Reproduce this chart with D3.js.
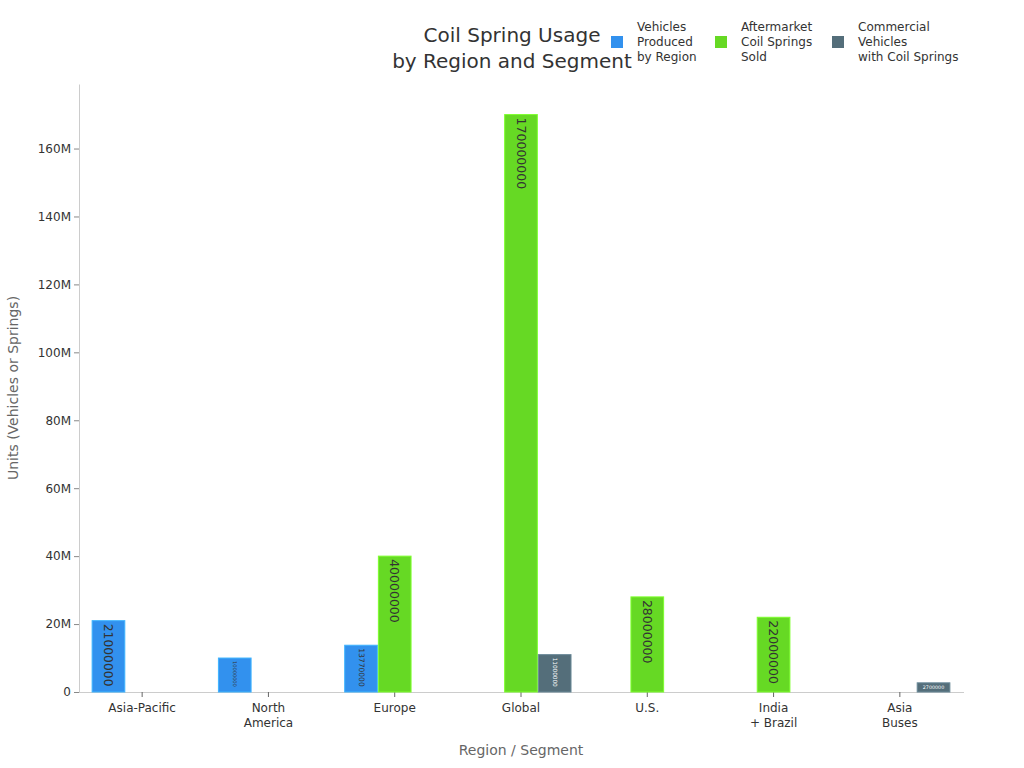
<!DOCTYPE html>
<html>
<head>
<meta charset="utf-8">
<script src="https://cdn.jsdelivr.net/npm/d3@7"></script>
<style>
  body { margin: 0; background: #fff; font-family: "DejaVu Sans", sans-serif; }
  svg text { font-family: "DejaVu Sans", sans-serif; }
</style>
</head>
<body>
<div id="chart"></div>
<script>
// data
const categories = ["Asia-Pacific", "North\nAmerica", "Europe", "Global", "U.S.", "India\n+ Brazil", "Asia\nBuses"];
const seriesNames = ["Vehicles\nProduced\nby Region", "Aftermarket\nCoil Springs\nSold", "Commercial\nVehicles\nwith Coil Springs"];
const vehiclesProduced = [21000000, 10000000, 13770000, null, null, null, null];
const aftermarketSprings = [null, null, 40000000, 170000000, 28000000, 22000000, null];
const commercialVehicles = [null, null, null, 11000000, null, null, 2700000];
const yTicks = [0, 20e6, 40e6, 60e6, 80e6, 100e6, 120e6, 140e6, 160e6];
const colors = ["#3291ee", "#66d924", "#546e7a"];

(function () {
    const width = 1024, height = 768;
    const margin = { top: 84, right: 61, bottom: 76, left: 79 };
    const innerW = width - margin.left - margin.right;
    const innerH = height - margin.top - margin.bottom;

    const svg = d3.select("#chart").append("svg")
        .attr("width", width).attr("height", height);
    const g = svg.append("g").attr("transform", `translate(${margin.left},${margin.top})`);

    const allSeries = [vehiclesProduced, aftermarketSprings, commercialVehicles];

    const x0 = d3.scaleBand().domain(categories).range([0, innerW])
        .paddingInner(0.2).paddingOuter(0.1);
    const x1 = d3.scaleBand().domain(d3.range(3)).range([0, x0.bandwidth()]);
    const y = d3.scaleLinear().domain([0, 179e6]).range([innerH, 0]);

    // axes
    const yAxis = g.append("g").call(d3.axisLeft(y).tickValues(yTicks)
        .tickFormat(d => d === 0 ? "0" : d3.format("~s")(d)).tickSize(5).tickSizeOuter(0));
    yAxis.select(".domain").attr("stroke", "#ccc");
    yAxis.selectAll(".tick line").attr("stroke", "#888");
    yAxis.selectAll(".tick text").attr("fill", "#333").attr("font-size", 12);

    const xAxisG = g.append("g").attr("transform", `translate(0,${innerH})`);
    const xAxis = d3.axisBottom(x0).tickSize(5).tickSizeOuter(0).tickPadding(6);
    xAxisG.call(xAxis);
    // extend domain across the full width
    xAxisG.select(".domain").attr("d", `M0,0.5H${innerW + 1}`).attr("stroke", "#ccc");
    xAxisG.selectAll(".tick line").attr("stroke", "#666");
    xAxisG.selectAll(".tick text").each(function (d) {
        const t = d3.select(this).text(null).attr("fill", "#333").attr("font-size", 12);
        d.split("\n").forEach((line, i) => {
            t.append("tspan").attr("x", 0).attr("dy", i === 0 ? "0.71em" : "1.25em").text(line);
        });
    });

    // bars
    const bars = [];
    categories.forEach((c, ci) => {
        allSeries.forEach((s, si) => {
            if (s[ci] != null) bars.push({ cat: c, si, v: s[ci] });
        });
    });

    const barG = g.selectAll(".bar").data(bars).join("g").attr("class", "bar");
    barG.append("rect")
        .attr("x", d => x0(d.cat) + x1(d.si) + 0.5)
        .attr("y", d => y(d.v))
        .attr("width", x1.bandwidth() - 1)
        .attr("height", d => innerH - y(d.v))
        .attr("fill", d => colors[d.si])
        .attr("stroke", d => d3.color(colors[d.si]).brighter(0.6))
        .attr("stroke-width", 1);

    // value labels inside bars
    barG.each(function (d) {
        const bw = x1.bandwidth();
        const bh = innerH - y(d.v);
        const cx = x0(d.cat) + x1(d.si) + bw / 2;
        const txt = String(d.v);
        const fill = d.si === 2 ? "#fff" : "#333";
        if (bh > 20) {
            const fs = Math.min(12.5, (bh - 8) / (txt.length * 0.64));
            d3.select(this).append("text")
                .attr("transform", `translate(${cx},${y(d.v) + 3}) rotate(90)`)
                .attr("dominant-baseline", "central")
                .attr("font-size", fs)
                .attr("fill", fill)
                .text(txt);
        } else {
            const fs = Math.min(bh * 0.6, (bw - 12) / (txt.length * 0.64));
            d3.select(this).append("text")
                .attr("x", cx).attr("y", y(d.v) + bh / 2)
                .attr("text-anchor", "middle")
                .attr("dominant-baseline", "central")
                .attr("font-size", fs)
                .attr("fill", fill)
                .text(txt);
        }
    });

    // axis titles
    svg.append("text")
        .attr("x", margin.left + innerW / 2).attr("y", 755)
        .attr("text-anchor", "middle").attr("font-size", 14).attr("fill", "#666")
        .text("Region / Segment");
    svg.append("text")
        .attr("transform", `translate(18,${margin.top + innerH / 2}) rotate(-90)`)
        .attr("text-anchor", "middle").attr("font-size", 14).attr("fill", "#666")
        .text("Units (Vehicles or Springs)");

    // title
    const title = svg.append("text").attr("x", 512).attr("text-anchor", "middle")
        .attr("font-size", 20).attr("fill", "#333");
    title.append("tspan").attr("x", 512).attr("y", 42).text("Coil Spring Usage");
    title.append("tspan").attr("x", 512).attr("y", 68).text("by Region and Segment");

    // legend
    const legendX = [611, 715, 832];
    seriesNames.forEach((name, i) => {
        const lg = svg.append("g").attr("transform", `translate(${legendX[i]},0)`);
        lg.append("rect").attr("x", 0).attr("y", 36).attr("width", 12).attr("height", 12)
            .attr("fill", colors[i]);
        const t = lg.append("text").attr("font-size", 12).attr("fill", "#333");
        name.split("\n").forEach((line, li) => {
            t.append("tspan").attr("x", 26).attr("y", 31 + li * 15).text(line);
        });
    });
})();
</script>
</body>
</html>
